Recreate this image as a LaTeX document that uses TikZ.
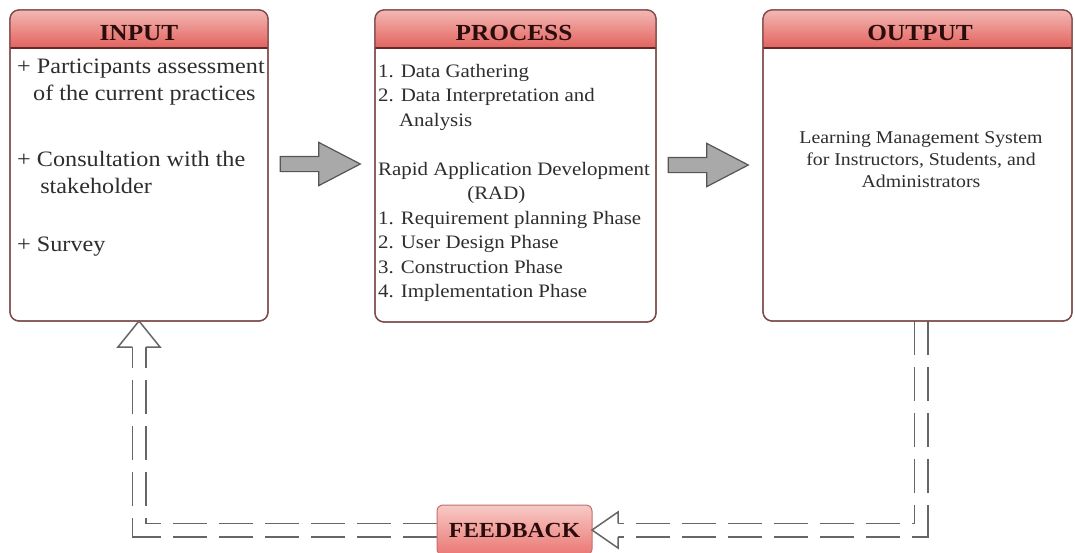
\documentclass[tikz,border=0pt]{standalone}
\usepackage{fontspec}
\usepackage{graphicx}
\setmainfont{Liberation Serif}
\usetikzlibrary{shapes.arrows,calc}

\definecolor{edge}{HTML}{7E4A4A}
\definecolor{hdtop}{HTML}{F3B8B4}
\definecolor{hdbot}{HTML}{E3625E}
\definecolor{sepline}{HTML}{5E2A2A}
\definecolor{titletext}{HTML}{2B0C0C}
\definecolor{bodytext}{HTML}{2E2E2E}
\definecolor{arrowfill}{HTML}{A9A9A9}
\definecolor{arrowedge}{HTML}{555555}
\definecolor{fbedge}{HTML}{666666}
\definecolor{fbborder}{HTML}{C07070}
\definecolor{fbtop}{HTML}{F8CAC6}
\definecolor{fbbot}{HTML}{EA7773}

\pgfdeclarelayer{bg}
\pgfsetlayers{bg,main}

\tikzset{
  panel/.style={draw=edge, line width=1.3pt, rounded corners=9pt, fill=white,
    inner sep=0pt, outer sep=0pt},
  title/.style={font=\fontsize{23}{27}\selectfont\bfseries, text=titletext,
    anchor=base, inner sep=0pt, xscale=1.1, transform shape},
  bodytxt/.style={text=bodytext, align=left, inner sep=0pt,
    xscale=1.1, transform shape},
  greyarrow/.style={single arrow, draw=arrowedge, fill=arrowfill, line width=1.2pt,
    minimum height=80pt, inner sep=7pt, single arrow head extend=14pt,
    single arrow tip angle=55, outer sep=0pt},
  fbbox/.style={draw=fbborder, line width=1pt, rounded corners=6pt,
    top color=fbtop, bottom color=fbbot,
    minimum width=155pt, minimum height=50pt, inner sep=0pt, outer sep=0pt,
    text=titletext, font=\fontsize{21.5}{25}\selectfont\bfseries},
  fbline/.style={draw=fbedge, line width=1.5pt, double=white, double distance=12pt,
    dash pattern=on 34pt off 12pt},
  headline/.style={draw=fbedge, line width=1.5pt, fill=white, line join=miter},
}

% shaded title band, separator and outline of a panel
\newcommand\panelhead[1]{%
  \begin{scope}
    \clip[rounded corners=9pt] (#1.north west) rectangle (#1.south east);
    \shade[top color=hdtop, bottom color=hdbot]
      (#1.north west) rectangle ([yshift=-38pt]#1.north east);
  \end{scope}
  \draw[sepline, line width=1.8pt]
    ([yshift=-38pt]#1.north west) -- ([yshift=-38pt]#1.north east);
  \draw[edge, line width=1.3pt, rounded corners=9pt]
    (#1.north west) rectangle (#1.south east);
}

\begin{document}
\begin{tikzpicture}[x=1pt, y=-1pt]
\useasboundingbox (0,0) rectangle (1075,552);
\clip (0,0) rectangle (1075,552);

% the three panels
\node[panel, minimum width=258pt, minimum height=311pt] (input)   at (139,165.5)  {};
\node[panel, minimum width=281pt, minimum height=312pt] (process) at (515.5,166)  {};
\node[panel, minimum width=309pt, minimum height=311pt] (output)  at (917.5,165.5) {};
\panelhead{input}
\panelhead{process}
\panelhead{output}

\node[title] (inputT)   at (139,40)   {INPUT};
\node[title] (processT) at (514,40)   {PROCESS};
\node[title] (outputT)  at (920,40.5) {OUTPUT};

% panel contents (multi-line nodes sit on the baseline of their last line)
\node[bodytxt, font=\fontsize{22}{26.5}\selectfont, anchor=base west] (in1) at (17,100)
  {+ Participants assessment\\\hspace*{14.5pt}of the current practices};
\node[bodytxt, font=\fontsize{22}{26.5}\selectfont, anchor=base west] (in2) at (17,193)
  {+ Consultation with the\\\hspace*{21pt}stakeholder};
\node[bodytxt, font=\fontsize{22}{26.5}\selectfont, anchor=base west] (in3) at (17,251)
  {+ Survey};

\node[bodytxt, font=\fontsize{19}{24.5}\selectfont, anchor=base west] (proctxt) at (378,297.5)
  {1. Data Gathering\\
   2. Data Interpretation and\\
   \hspace*{19pt}Analysis\\[24.5pt]
   Rapid Application Development\\
   \hspace*{81pt}(RAD)\\
   1. Requirement planning Phase\\
   2. User Design Phase\\
   3. Construction Phase\\
   4. Implementation Phase};

\node[bodytxt, align=center, font=\fontsize{18}{22}\selectfont, anchor=base] (outtxt) at (921,187.3)
  {Learning Management System\\for Instructors, Students, and\\Administrators};

% block arrows between the panels
\node[greyarrow] (arr1) at (313,164) {};
\node[greyarrow] (arr2) at (701,165) {};

% feedback box
\node[fbbox] (feedback) at (514.5,530) {\scalebox{1.1}[1]{FEEDBACK}};

% feedback loop
\coordinate (rhead) at (618,530);
\coordinate (lhead) at ($(input.south)+(0,26)$);
\begin{pgfonlayer}{bg}
  \draw[fbline] ([xshift=3.5pt]output.south) |- (rhead);
  \draw[fbline] (feedback.west) -| (lhead);
\end{pgfonlayer}
\draw[headline] ($(rhead)+(0,-6.75)$) -- ($(rhead)+(0,-18)$) -- (feedback.east)
  -- ($(rhead)+(0,18)$) -- ($(rhead)+(0,6.75)$);
\draw[headline] ($(lhead)+(-6.75,0)$) -- ($(lhead)+(-21,0)$) -- (input.south)
  -- ($(lhead)+(21,0)$) -- ($(lhead)+(6.75,0)$);
\end{tikzpicture}
\end{document}
